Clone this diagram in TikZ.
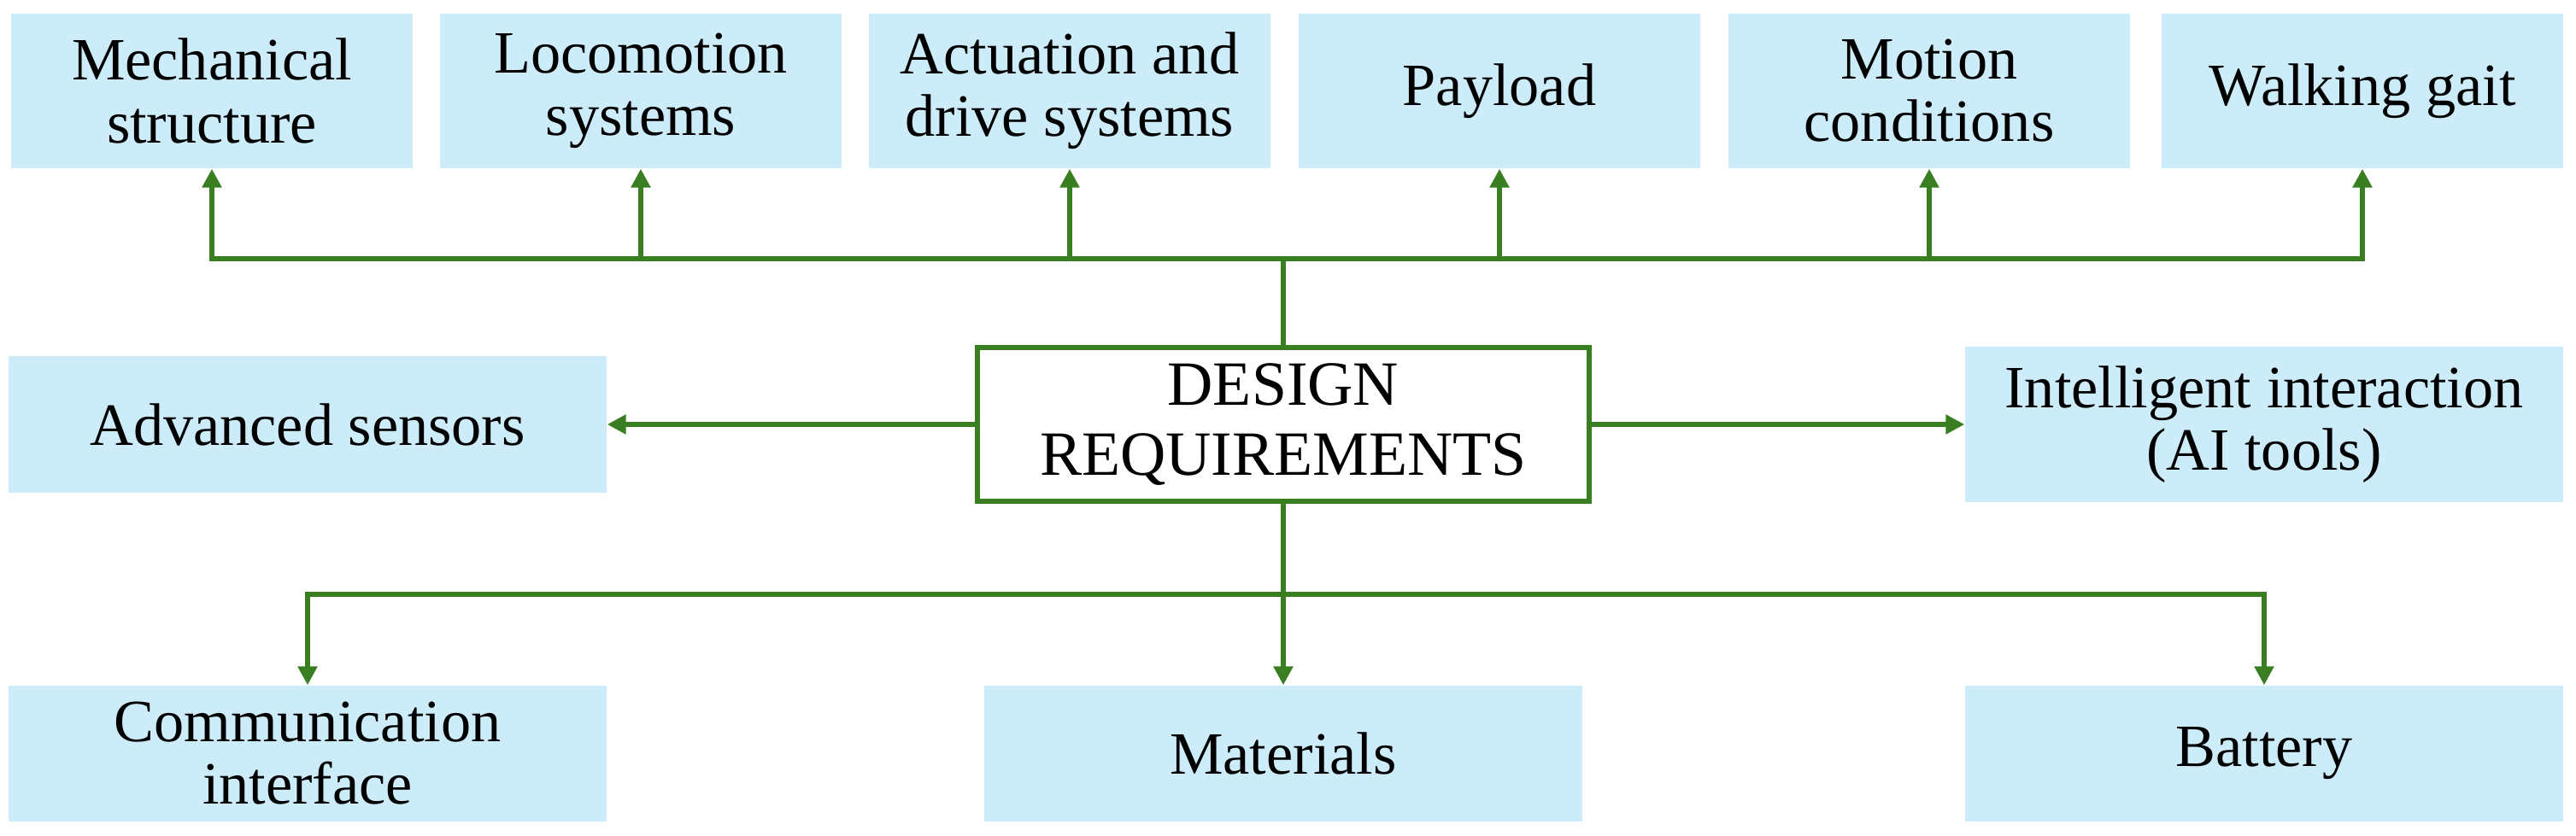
\documentclass[tikz,border=0pt]{standalone}
\usepackage{fontspec}
\setmainfont{Liberation Serif}
\usetikzlibrary{arrows.meta}
\definecolor{boxblue}{RGB}{204,236,249}
\definecolor{linkgreen}{RGB}{58,126,34}
\tikzset{
  req/.style={fill=boxblue, minimum width=4.7cm, minimum height=1.81cm, inner sep=0pt,
    align=center, font=\fontsize{20}{20.8}\selectfont},
  widereq/.style={req, minimum width=7cm, minimum height=1.59cm},
  core/.style={draw=linkgreen, line width=1.7pt, fill=white, minimum width=7.16cm,
    minimum height=1.8cm, align=center, font=\fontsize{21}{23.3}\selectfont},
  link/.style={draw=linkgreen, line width=1.7pt, -{Triangle[length=2.2mm,width=2.2mm]}},
}
\begin{document}
\begin{tikzpicture}
  \useasboundingbox (0,0) rectangle (30.15,-9.79);
  % top row
  \node[req] (mech) at (2.48,-1.065) {Mechanical\\structure};
  \node[req] (loco) at (7.50,-1.065) {Locomotion\\systems};
  \node[req] (act)  at (12.52,-1.065) {Actuation and\\drive systems};
  \node[req] (pay)  at (17.55,-1.065) {Payload};
  \node[req] (mot)  at (22.58,-1.065) {Motion\\conditions};
  \node[req] (walk) at (27.65,-1.065) {Walking gait};
  % middle row
  \node[core] (core) at (15.02,-4.97) {DESIGN\\REQUIREMENTS};
  \node[widereq] (sens) at (3.60,-4.97) {Advanced sensors};
  \node[widereq, minimum height=1.82cm] (ai) at (26.50,-4.97) {Intelligent interaction\\(AI tools)};
  % bottom row
  \node[widereq] (comm) at (3.60,-8.825) {Communication\\interface};
  \node[widereq] (mat)  at (15.02,-8.825) {Materials};
  \node[widereq] (bat)  at (26.50,-8.825) {Battery};
  % connectors
  \coordinate (tb) at (15.02,-3.03);
  \coordinate (bb) at (15.02,-6.96);
  \foreach \n in {mech,loco,act,pay,mot,walk}
    \draw[link] (core.north) -- (core.north |- tb) -| (\n.south);
  \foreach \n in {comm,mat,bat}
    \draw[link] (core.south) -- (core.south |- bb) -| (\n.north);
  \draw[link] (core.west) -- (core.west -| sens.east);
  \draw[link] (core.east) -- (core.east -| ai.west);
\end{tikzpicture}
\end{document}
